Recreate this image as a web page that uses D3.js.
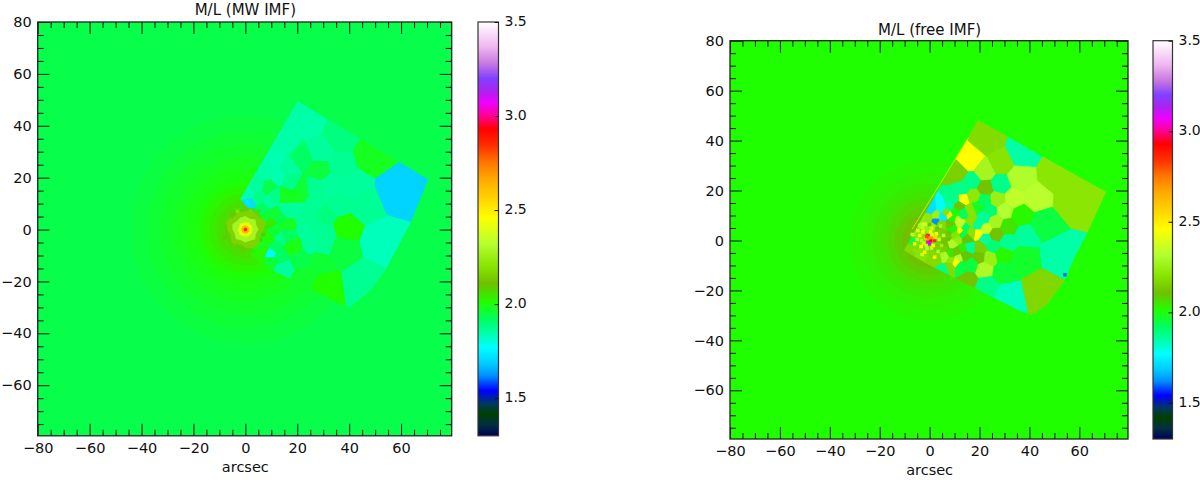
<!DOCTYPE html>
<html>
<head>
<meta charset="utf-8">
<script src="https://cdn.jsdelivr.net/npm/d3@7"></script>
<style>
    html, body { margin: 0; padding: 0; background: #fff; }
    svg { display: block; }
    text { font-family: "DejaVu Sans", sans-serif; fill: #111; }
</style>
</head>
<body>
<svg width="1200" height="480"></svg>
<script>
// colour map
var cmapStops = [1.3, 1.36, 1.42, 1.47, 1.54, 1.62, 1.68, 1.77, 1.84, 1.92, 2.01, 2.06, 2.11, 2.2, 2.32, 2.46, 2.55, 2.65, 2.75, 2.84, 2.93, 3.0, 3.07, 3.13, 3.2, 3.28, 3.37, 3.5];
var cmapColors = ["#000058", "#003040", "#004000", "#003860", "#0000ff", "#0090ff", "#00c8ff", "#00ffff", "#00ffb0", "#00ff60", "#20ff00", "#48e000", "#70c000", "#88e400", "#b4ff30", "#ffff00", "#ffd800", "#ffb000", "#ff7800", "#ff3000", "#ff0000", "#ff0090", "#f000ff", "#b020f0", "#8040ff", "#c878e0", "#f0b8f0", "#ffffff"];
var cbarTicks = [1.5, 2.0, 2.5, 3.0, 3.5];
var xMajor = [-80, -60, -40, -20, 0, 20, 40, 60];
var yMajor = [-60, -40, -20, 0, 20, 40, 60, 80];

// left panel: M/L (MW IMF)
var leftBg = 1.94;
var leftRingR = [44, 38, 33, 28, 24, 20, 17, 14, 11, 8];
var leftRingV = [1.95, 1.96, 1.97, 1.98, 1.99, 2.0, 2.02, 2.04, 2.06, 2.08];
var leftWedgeX = [20.3, 70.5, 63.5, 53.9, 48, 40.3, 36.5, 10.6, -9.8];
var leftWedgeY = [49.4, 19.3, 2.3, -15.8, -23.6, -30, -28.6, -15.8, -1.5];
var leftCellX = [23.6, 36.5, 48.4, 57.5, 52, 44.2, 30.7, 22.3, 14.6, 37.8, 36.5, 28.8, 45.5, 41.6, 36.5, 28.1, 15.3, 11, 22.1, 28.1, 16.5, 33.3, 26.2, 21.7, 12.7, 7.5, 17.2, 9.2, 4.3, 35.5, 31.1, 26.2, 22.3, 26.2, 30.7, 23, 24.9, 30, 18.5, 21, 13.3, 9.5, 16.1, 19.1, 15.2, 19.1, 11.4, 8.8, 15.9, 13.3, 1.7, 5, 1.1, 9.5, 13.3, 16.1, 9.5, -5, 0, 5, -2, 1, 5.5, 8, 6.5, 11, 11.5, 9, 11, 7, 6.5, 4, -1, 1.5];
var leftCellY = [40.8, 35.7, 28.2, 15, -4.2, -19.7, -21.6, -18.4, -14.5, 1.2, -8.1, -12, 9.9, 17, 24.7, 29.9, 33.7, 26.7, 27.3, 22.8, 23.4, 17, 16.3, 15.7, 20.2, 21.5, 18.3, 16.1, 17, 9.3, 5, 8.6, 4.8, 2.2, -1, 0.3, -5.5, -6.2, -6.8, -11.3, -10.7, -12, 1.5, 8.6, 13.1, 12.5, 13.1, 10.6, 7.3, 4.8, 10.2, 11.8, 13.8, -9.1, -2.9, -1.7, 2.8, -1, -6, -12, 4, 0, 0, 4.5, 8, 5.5, -0.5, -4, -6.5, -8, -6, 4, 8, 6.5];
var leftCellV = [1.85, 1.89, 1.98, 1.7, 1.83, 1.87, 2.01, 1.97, 1.86, 2.01, 1.95, 1.96, 1.87, 1.86, 1.87, 1.86, 1.85, 1.84, 1.92, 1.95, 1.86, 1.86, 1.87, 1.96, 1.84, 1.85, 1.88, 1.94, 1.86, 1.87, 1.89, 1.87, 1.87, 1.87, 1.87, 1.86, 1.86, 1.87, 1.99, 1.94, 1.92, 1.96, 1.98, 1.86, 1.98, 1.98, 1.88, 1.86, 1.86, 1.94, 1.72, 1.88, 1.84, 1.76, 1.88, 1.92, 2.04, null, null, 2.02, null, null, 2.04, 1.97, 1.92, 1.96, 1.96, 2.0, 1.92, 2.02, 1.98, null, null, null];
var leftCoreV = [2.16, 2.28, 2.42, 2.62, 2.85];
var leftCoreR = [
    [7, 8, 7, 8.5, 7, 6, 7.5, 8, 7, 6, 7.5, 6, 7, 8, 6.5, 7],
    [5.2, 4.5, 5.5, 4.6, 5, 4.4, 5.3, 4.7, 5, 4.5, 5.2, 4.4, 5, 5.4, 4.6, 5],
    [2.8, 3, 2.6, 3, 2.7, 2.9, 2.6, 3, 2.8, 2.6, 3, 2.7, 2.9, 2.6, 3, 2.7],
    [1.6, 1.6, 1.6, 1.6, 1.6, 1.6, 1.6, 1.6, 1.6, 1.6, 1.6, 1.6, 1.6, 1.6, 1.6, 1.6],
    [0.7, 0.7, 0.7, 0.7, 0.7, 0.7, 0.7, 0.7, 0.7, 0.7, 0.7, 0.7, 0.7, 0.7, 0.7, 0.7]
];
var leftEdgeX = [1, 20.3];
var leftEdgeY = [16, 49.4];
var leftEdgeV = 1.82;
var leftBlockX = [-6, -7, -5, -3, 2, 5, 6, 7, 4, -1, -4, -2, 3, 6, -8, 0, 5, 8];
var leftBlockY = [4, 1, 6, 7, 7, 5, 2, -2, -6, -8, -6, -5, -5, -4, -3, 8, 7, 1];
var leftBlockV = [2.14, 2.1, 2.12, 2.2, 2.18, 2.14, 2.2, 2.1, 2.16, 2.12, 2.14, 2.22, 2.2, 2.08, 2.1, 2.12, 2.06, 2.06];

// right panel: M/L (free IMF)
var rightBg = 2.01;
var rightRingR = [32, 27, 23, 20, 17, 14, 11];
var rightRingV = [2.02, 2.03, 2.04, 2.05, 2.07, 2.09, 2.11];
var rightWedgeX = [19.4, 70.7, 62.7, 58, 54, 47.3, 44, 40.6, 35.9, -1, -10.3];
var rightWedgeY = [48.2, 19.4, 2, -7, -16.1, -25.4, -28, -29.7, -28.1, -9.4, -4];
var rightCellX = [23.2, 36.6, 28.5, 56.6, 50, 51.3, 43.9, 31.2, 22.5, 15.1, 5.8, 16.2, 21.8, 11.1, 17.1, 22.2, 28.3, 35.9, 42.2, 33.5, 26.9, 21.8, 13.1, 13.5, 17.5, 9.8, 19.4, 24.2, 29.9, 36.6, 45.3, 37.9, 31.2, 26.1, 22.5, 26.5, 19.1, 31.2, 22.2, 25.2, 29.2, 37.2, 29.2, 23.8, 21.6, 19.8, 20.2, 15.8, 16.5, 11.8, 10.4, 12.2, 14, 19.1, 21.6, 16.5, 11.1, 8.2, 7.8, 11.8, 16.2, 13.5, 0.4, 2.4, 5.1, 5.1, -2.9, 2.4, 8.4, 8.4, 3.1, 13.1, 11.1, 7.1, -7, 0, -4, 3, 5, -5, -3, 9.5, 9, 6, 8.5, 6, 8, 12.5, 14, 11, 10.5, 10, 6.5, 9.3, 13.5, 15, 17, 12.5, -0.5, 1, 4.5, 3.5, -9, -6, -4.5, -6];
var rightCellY = [40.2, 34.8, 30.8, 16.1, 26.1, -5.4, -19.4, -22.1, -18.1, -15.4, -11.4, 31.9, 27.4, 26.8, 23.4, 20.7, 22.1, 24.8, 16.7, 16.7, 16.3, 16.1, 20.3, 16.5, 17.7, 16.3, 13.1, 11.8, 11.8, 10, 6.7, 2, 5.4, 7.4, 4.7, 2.3, 2.7, -0.7, 0.4, -2.3, -5.8, -7, -12, -7, -11, -6.7, -2.7, -2.7, -9.4, -6.7, -8.7, 4, 5.4, 6.4, 9.1, 8, 8.3, 10.2, 13.4, 13.7, 11.8, 10.7, 12.3, 7.8, 9.4, 12.7, 6.7, 10, 6.7, -8, -7, -3.4, 0.7, 1.3, 0, -2, -4, 3, -3, 3, 8, 4.5, -1.5, -2.5, -5, -6.5, -10.5, -10.5, -6, -4.5, 2, 11, 11.5, 8.8, 2.5, 1, 3, 6.5, 9, 5.5, 6.5, 3.5, -3, -3, 2, 3];
var rightCellV = [2.18, 1.85, 2.2, 2.21, 2.21, 1.85, 2.17, 1.83, 1.88, 2.12, 1.88, 2.46, 2.28, 2.15, 1.88, 2.12, 1.88, 2.31, 2.33, 2.34, 2.25, 1.92, 1.88, 2.45, 2.22, 1.88, 1.97, 1.9, 2.32, 2.02, 1.95, 1.86, 2.05, 2.28, 2.36, 2.12, 2.46, 1.87, 1.86, 1.9, 2.02, 1.97, 1.96, 2.25, 2.3, 2.12, 2.15, 1.87, 1.95, 2.32, 2.46, 2.46, 1.92, 1.86, 1.86, 2.2, 2.36, 2.52, 1.85, 2.12, 2.2, 1.92, 1.72, 1.62, 1.74, 1.78, 2.36, 2.26, 2.12, 2.22, 2.18, 2.04, 2.24, 2.13, 1.95, 2.18, 2.2, 2.18, 2.15, 2.2, 2.24, 2.0, 2.3, 2.12, 2.05, 2.3, 2.18, 1.95, 2.1, 2.12, 2.2, 2.0, 2.2, 2.0, 1.95, 2.1, 2.2, 2.35, 2.22, 2.25, 2.18, 2.15, 2.18, 2.18, 2.2, 2.25];
var rightCoreV = [];
var rightCoreR = [];
var rightEdgeX = [-7, 15.5];
var rightEdgeY = [4.5, 41];
var rightEdgeV = 2.5;
var rightBlockX = [-0.7, 0.4, -0.7, 2, 0, -1.6, 1, 0.4, -2.7, -4, 2.7, -2, 2, -6, -4.7, 3.8, 4.8, -3.4, -1, 1.8, 3.4, -5, 5.6, -1.6, 0.8, 3, -3, 6.4, -7, 4.4, 0, -2.4, 1.4, -0.4, 7.4, 2.4, -6, 8, 5.2, -4, 54.2, -1.4, 1, -3.2, 2.2, -1.2, 0.8];
var rightBlockY = [2, 0, -0.7, 0, -1.3, 0.8, 1.2, 3.4, 3.4, 2, 2.7, -4.7, -6.7, -1.3, 4, 0.4, -2, -2.4, -3.2, -3.4, -4.4, 0.4, 2, 5, 5, 4.8, -5.6, -3, 2.4, 5.8, 6.4, -1, -2, 1, 0.6, 1.6, -4, 3.2, -5.8, 6, -13.7, -2, 2.4, 0, 1.2, 1.6, -3];
var rightBlockV = [3.0, 2.95, 3.05, 2.85, 3.1, 2.6, 2.7, 2.46, 2.46, 2.46, 2.46, 2.5, 2.5, 2.46, 2.4, 2.34, 2.25, 2.46, 2.34, 2.15, 2.3, 2.36, 2.32, 2.25, 2.38, 2.12, 2.36, 2.15, 2.34, 2.28, 2.12, 2.4, 2.46, 2.7, 2.1, 2.3, 2.2, 2.12, 2.28, 2.3, 1.6, 2.34, 2.4, 2.3, 2.55, 2.8, 2.34];

var cmap = d3.scaleLinear().domain(cmapStops).range(cmapColors).clamp(true);
var svg = d3.select("svg");

// one gradient for both colour bars
var grad = svg.append("defs").append("linearGradient")
    .attr("id", "cbar").attr("x1", 0).attr("x2", 0).attr("y1", 1).attr("y2", 0);
grad.selectAll("stop").data(cmapStops).enter().append("stop")
    .attr("offset", function (d) { return (d - 1.3) / 2.2; })
    .attr("stop-color", function (d) { return cmap(d); });

function minorTicks(lo, hi) {
    return d3.range(lo, hi + 0.1, 5).filter(function (d) { return d % 20 !== 0; });
}

function styleAxis(g, keepLabels) {
    g.select(".domain").remove();
    g.selectAll(".tick line").attr("stroke", "#111").attr("stroke-width", 1);
    if (!keepLabels) g.selectAll(".tick text").remove();
    else g.selectAll(".tick text").style("font-size", "14.5px").attr("fill", "#111");
}

function drawPanel(id, opt) {
    var x = d3.scaleLinear().domain([-80, 79.5]).range(opt.xRange);
    var y = d3.scaleLinear().domain([-79.5, 80]).range(opt.yRange);
    var w = opt.xRange[1] - opt.xRange[0], h = opt.yRange[0] - opt.yRange[1];
    var left = opt.xRange[0], top = opt.yRange[1], bottom = opt.yRange[0], right = opt.xRange[1];
    var defs = svg.select("defs");
    defs.append("clipPath").attr("id", id + "-plot").append("rect")
        .attr("x", left).attr("y", top).attr("width", w).attr("height", h);
    defs.append("clipPath").attr("id", id + "-wedge").append("polygon")
        .attr("points", opt.wedgeX.map(function (d, i) { return x(d) + "," + y(opt.wedgeY[i]); }).join(" "));

    var plot = svg.append("g").attr("clip-path", "url(#" + id + "-plot)");
    plot.append("rect").attr("x", left).attr("y", top).attr("width", w).attr("height", h)
        .attr("fill", cmap(opt.bg));

    // faint radial glow round the nucleus
    plot.selectAll("circle.ring").data(opt.ringR).enter().append("circle")
        .attr("class", "ring")
        .attr("cx", x(0)).attr("cy", y(0))
        .attr("r", function (d) { return x(d) - x(0); })
        .attr("fill", function (d, i) { return cmap(opt.ringV[i]); });

    // voronoi bins inside the IFU footprint
    var pts = opt.cellX.map(function (d, i) { return [x(d), y(opt.cellY[i])]; });
    var vor = d3.Delaunay.from(pts).voronoi([left, top, right, bottom]);
    plot.append("g").attr("clip-path", "url(#" + id + "-wedge)")
        .selectAll("path").data(opt.cellV).enter().append("path")
        .attr("d", function (d, i) { return vor.renderCell(i); })
        .attr("fill", function (d) { return d === null ? "none" : cmap(d); })
        .attr("stroke", function (d) { return d === null ? "none" : cmap(d); })
        .attr("stroke-width", 0.5);

    plot.append("line")
        .attr("x1", x(opt.edgeX[0])).attr("y1", y(opt.edgeY[0]))
        .attr("x2", x(opt.edgeX[1])).attr("y2", y(opt.edgeY[1]))
        .attr("stroke", cmap(opt.edgeV)).attr("stroke-width", 1).attr("stroke-opacity", 0.7);

    var radial = d3.lineRadial()
        .angle(function (d, i) { return i / 16 * 2 * Math.PI; })
        .radius(function (d) { return x(d) - x(0); })
        .curve(d3.curveLinearClosed);
    var bw = x(1.4) - x(0);
    // mottled blocks sit under the core contours
    plot.selectAll("rect.block").data(opt.blockV).enter().append("rect")
        .attr("class", "block")
        .attr("x", function (d, i) { return x(opt.blockX[i]) - bw / 2; })
        .attr("y", function (d, i) { return y(opt.blockY[i]) - bw / 2; })
        .attr("width", bw).attr("height", bw)
        .attr("fill", function (d) { return cmap(d); });
    plot.append("g").attr("transform", "translate(" + x(0) + "," + y(0) + ")")
        .selectAll("path").data(opt.coreV).enter().append("path")
        .attr("d", function (d, i) { return radial(opt.coreR[i]); })
        .attr("fill", function (d) { return cmap(d); });

    // ticks on all four sides
    var majorLen = 12, minorLen = 6;
    var gx = svg.append("g").attr("transform", "translate(0," + bottom + ")")
        .call(d3.axisBottom(x).tickValues(xMajor).tickSizeInner(-majorLen).tickSizeOuter(0).tickPadding(6));
    styleAxis(gx, true);
    gx.selectAll(".tick text").attr("y", 7);
    styleAxis(svg.append("g").attr("transform", "translate(0," + bottom + ")")
        .call(d3.axisBottom(x).tickValues(minorTicks(-75, 75)).tickSizeInner(-minorLen).tickSizeOuter(0)));
    styleAxis(svg.append("g").attr("transform", "translate(0," + top + ")")
        .call(d3.axisTop(x).tickValues(xMajor).tickSizeInner(-majorLen).tickSizeOuter(0)));
    styleAxis(svg.append("g").attr("transform", "translate(0," + top + ")")
        .call(d3.axisTop(x).tickValues(minorTicks(-75, 75)).tickSizeInner(-minorLen).tickSizeOuter(0)));
    var gy = svg.append("g").attr("transform", "translate(" + left + ",0)")
        .call(d3.axisLeft(y).tickValues(yMajor).tickSizeInner(-majorLen).tickSizeOuter(0).tickPadding(6));
    styleAxis(gy, true);
    styleAxis(svg.append("g").attr("transform", "translate(" + left + ",0)")
        .call(d3.axisLeft(y).tickValues(minorTicks(-75, 75)).tickSizeInner(-minorLen).tickSizeOuter(0)));
    styleAxis(svg.append("g").attr("transform", "translate(" + right + ",0)")
        .call(d3.axisRight(y).tickValues(yMajor).tickSizeInner(-majorLen).tickSizeOuter(0)));
    styleAxis(svg.append("g").attr("transform", "translate(" + right + ",0)")
        .call(d3.axisRight(y).tickValues(minorTicks(-75, 75)).tickSizeInner(-minorLen).tickSizeOuter(0)));

    svg.append("rect").attr("x", left).attr("y", top).attr("width", w).attr("height", h)
        .attr("fill", "none").attr("stroke", "#222").attr("stroke-width", 1.3);

    svg.append("text").attr("x", x(0)).attr("y", opt.titleY).attr("text-anchor", "middle")
        .style("font-size", "15px").text(opt.title);
    svg.append("text").attr("x", x(0)).attr("y", bottom + 36).attr("text-anchor", "middle")
        .style("font-size", "14.5px").text("arcsec");

    // colour bar
    var c = d3.scaleLinear().domain([1.3, 3.5]).range([bottom, top]);
    svg.append("rect").attr("x", opt.cbarX).attr("y", top).attr("width", opt.cbarW).attr("height", h)
        .attr("fill", "url(#cbar)").attr("stroke", "#333").attr("stroke-width", 1.2);
    var gc = svg.append("g").attr("transform", "translate(" + (opt.cbarX + opt.cbarW) + ",0)")
        .call(d3.axisRight(c).tickValues(cbarTicks).tickFormat(d3.format(".1f"))
            .tickSizeInner(-4).tickSizeOuter(0).tickPadding(6));
    styleAxis(gc, true);
    gc.selectAll(".tick text").attr("dy", "0.25em").style("font-size", "14px");
}

drawPanel("left", {
    xRange: [37.7, 451.7], yRange: [435.8, 22], title: "M/L (MW IMF)", titleY: 15, cbarX: 478, cbarW: 20.5,
    bg: leftBg, ringR: leftRingR, ringV: leftRingV, wedgeX: leftWedgeX, wedgeY: leftWedgeY,
    cellX: leftCellX, cellY: leftCellY, cellV: leftCellV, coreV: leftCoreV, coreR: leftCoreR,
    edgeX: leftEdgeX, edgeY: leftEdgeY, edgeV: leftEdgeV,
    blockX: leftBlockX, blockY: leftBlockY, blockV: leftBlockV
});
drawPanel("right", {
    xRange: [730, 1128], yRange: [439, 40.7], title: "M/L (free IMF)", titleY: 35, cbarX: 1153, cbarW: 19.5,
    bg: rightBg, ringR: rightRingR, ringV: rightRingV, wedgeX: rightWedgeX, wedgeY: rightWedgeY,
    cellX: rightCellX, cellY: rightCellY, cellV: rightCellV, coreV: rightCoreV, coreR: rightCoreR,
    edgeX: rightEdgeX, edgeY: rightEdgeY, edgeV: rightEdgeV,
    blockX: rightBlockX, blockY: rightBlockY, blockV: rightBlockV
});
</script>
</body>
</html>
